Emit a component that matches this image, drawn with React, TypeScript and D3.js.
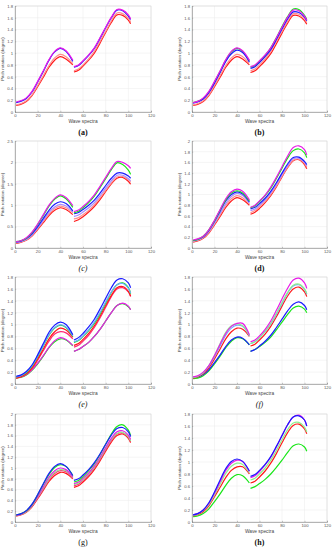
import React, { useRef, useEffect } from 'react';
import * as d3 from 'd3';

// sample positions along the wave spectra axis (two separate runs)
const X_LOW = [1, 5, 10, 15, 20, 25, 30, 35, 40, 45, 51];
const X_HIGH = [52, 56, 60, 65, 70, 75, 80, 85, 90, 95, 100, 102];
const X_TICKS = [0, 20, 40, 60, 80, 100, 120];

const PANEL_LABELS = ['(a)', '(b)', '(c)', '(d)', '(e)', '(f)', '(g)', '(h)'];
const Y_MAX = [1.8, 1.8, 2.5, 2, 1.8, 1.8, 2, 1.8];
const Y_STEP = [0.2, 0.2, 0.5, 0.2, 0.2, 0.2, 0.2, 0.2];

// [series name, low run, high run]
const seriesA = [
  ['red', [0.11, 0.13, 0.18, 0.28, 0.43, 0.59, 0.76, 0.88, 0.94, 0.90, 0.80], [0.68, 0.71, 0.78, 0.88, 1.00, 1.17, 1.35, 1.52, 1.65, 1.64, 1.56, 1.50]],
  ['pink', [0.12, 0.14, 0.19, 0.29, 0.45, 0.62, 0.79, 0.92, 0.98, 0.94, 0.82], [0.70, 0.73, 0.80, 0.90, 1.03, 1.20, 1.37, 1.55, 1.68, 1.67, 1.59, 1.53]],
  ['blue', [0.16, 0.18, 0.23, 0.34, 0.51, 0.69, 0.88, 1.02, 1.08, 1.03, 0.86], [0.76, 0.79, 0.86, 0.96, 1.08, 1.25, 1.43, 1.60, 1.73, 1.72, 1.63, 1.57]],
  ['magenta', [0.17, 0.19, 0.24, 0.35, 0.52, 0.70, 0.89, 1.03, 1.09, 1.04, 0.88], [0.77, 0.80, 0.87, 0.97, 1.09, 1.26, 1.44, 1.61, 1.74, 1.73, 1.65, 1.58]],
];

const seriesB = [
  ['red', [0.11, 0.13, 0.18, 0.28, 0.43, 0.59, 0.76, 0.88, 0.94, 0.90, 0.80], [0.67, 0.70, 0.77, 0.87, 0.99, 1.16, 1.34, 1.51, 1.64, 1.63, 1.55, 1.49]],
  ['pink', [0.12, 0.14, 0.19, 0.29, 0.45, 0.62, 0.79, 0.92, 0.98, 0.94, 0.83], [0.70, 0.73, 0.80, 0.90, 1.03, 1.20, 1.37, 1.54, 1.67, 1.66, 1.58, 1.52]],
  ['green', [0.16, 0.18, 0.23, 0.34, 0.51, 0.69, 0.88, 1.02, 1.08, 1.03, 0.87], [0.76, 0.79, 0.86, 0.96, 1.09, 1.26, 1.45, 1.62, 1.75, 1.74, 1.64, 1.57]],
  ['blue', [0.15, 0.17, 0.22, 0.33, 0.49, 0.67, 0.86, 0.99, 1.05, 1.01, 0.85], [0.74, 0.77, 0.84, 0.94, 1.06, 1.23, 1.41, 1.58, 1.70, 1.69, 1.61, 1.55]],
  ['magenta', [0.16, 0.18, 0.24, 0.35, 0.52, 0.70, 0.89, 1.03, 1.09, 1.04, 0.88], [0.77, 0.80, 0.87, 0.97, 1.09, 1.26, 1.44, 1.61, 1.73, 1.72, 1.63, 1.56]],
];

const seriesC = [
  ['red', [0.11, 0.13, 0.18, 0.28, 0.43, 0.59, 0.76, 0.88, 0.94, 0.90, 0.78], [0.62, 0.66, 0.73, 0.84, 0.97, 1.13, 1.32, 1.50, 1.63, 1.65, 1.56, 1.49]],
  ['pink', [0.12, 0.14, 0.19, 0.29, 0.45, 0.62, 0.79, 0.92, 0.98, 0.94, 0.82], [0.68, 0.71, 0.78, 0.88, 1.01, 1.17, 1.35, 1.52, 1.66, 1.67, 1.59, 1.54]],
  ['lavender', [0.13, 0.15, 0.20, 0.31, 0.47, 0.65, 0.83, 0.96, 1.02, 0.98, 0.84], [0.74, 0.77, 0.84, 0.94, 1.06, 1.22, 1.40, 1.57, 1.70, 1.70, 1.62, 1.57]],
  ['blue', [0.14, 0.16, 0.22, 0.33, 0.50, 0.69, 0.88, 1.02, 1.08, 1.04, 0.87], [0.80, 0.83, 0.90, 1.00, 1.12, 1.28, 1.46, 1.63, 1.75, 1.75, 1.68, 1.63]],
  ['green', [0.15, 0.17, 0.23, 0.36, 0.55, 0.76, 0.98, 1.14, 1.22, 1.15, 0.95], [0.82, 0.86, 0.94, 1.06, 1.21, 1.41, 1.62, 1.83, 1.99, 1.95, 1.82, 1.72]],
  ['magenta', [0.15, 0.17, 0.24, 0.37, 0.56, 0.78, 1.00, 1.16, 1.24, 1.18, 0.99], [0.85, 0.89, 0.97, 1.09, 1.24, 1.44, 1.65, 1.86, 2.02, 2.00, 1.92, 1.86]],
];

const seriesD = [
  ['red', [0.11, 0.13, 0.18, 0.28, 0.43, 0.59, 0.76, 0.88, 0.94, 0.90, 0.80], [0.63, 0.67, 0.74, 0.85, 0.98, 1.14, 1.33, 1.50, 1.63, 1.65, 1.56, 1.48]],
  ['pink', [0.12, 0.14, 0.19, 0.29, 0.45, 0.62, 0.79, 0.92, 0.98, 0.94, 0.82], [0.66, 0.70, 0.77, 0.87, 1.00, 1.16, 1.34, 1.51, 1.64, 1.66, 1.58, 1.51]],
  ['lavender', [0.13, 0.15, 0.20, 0.31, 0.47, 0.65, 0.83, 0.96, 1.02, 0.98, 0.84], [0.70, 0.73, 0.80, 0.90, 1.03, 1.19, 1.37, 1.54, 1.67, 1.68, 1.60, 1.54]],
  ['blue', [0.14, 0.16, 0.21, 0.33, 0.50, 0.69, 0.88, 1.00, 1.05, 1.01, 0.86], [0.73, 0.76, 0.83, 0.93, 1.06, 1.22, 1.40, 1.57, 1.69, 1.70, 1.62, 1.56]],
  ['green', [0.14, 0.16, 0.22, 0.34, 0.51, 0.71, 0.90, 1.03, 1.07, 1.03, 0.88], [0.75, 0.79, 0.87, 0.98, 1.12, 1.30, 1.49, 1.68, 1.82, 1.85, 1.78, 1.69]],
  ['magenta', [0.15, 0.17, 0.22, 0.34, 0.52, 0.72, 0.92, 1.05, 1.10, 1.06, 0.90], [0.76, 0.80, 0.88, 0.99, 1.14, 1.32, 1.52, 1.72, 1.88, 1.91, 1.84, 1.74]],
];

const seriesE = [
  ['greenLow', [0.10, 0.11, 0.15, 0.23, 0.34, 0.47, 0.61, 0.71, 0.76, 0.74, 0.64], [0.55, 0.58, 0.63, 0.70, 0.80, 0.92, 1.06, 1.20, 1.32, 1.35, 1.30, 1.25]],
  ['magenta', [0.11, 0.12, 0.16, 0.24, 0.35, 0.48, 0.62, 0.73, 0.78, 0.75, 0.65], [0.55, 0.58, 0.63, 0.70, 0.80, 0.92, 1.06, 1.20, 1.32, 1.36, 1.31, 1.25]],
  ['deepPink', [0.10, 0.12, 0.17, 0.26, 0.40, 0.56, 0.72, 0.84, 0.88, 0.86, 0.76], [0.62, 0.65, 0.72, 0.82, 0.95, 1.11, 1.29, 1.47, 1.60, 1.62, 1.55, 1.47]],
  ['red', [0.10, 0.12, 0.17, 0.27, 0.42, 0.59, 0.76, 0.88, 0.94, 0.91, 0.79], [0.65, 0.68, 0.75, 0.85, 0.98, 1.14, 1.32, 1.49, 1.62, 1.64, 1.56, 1.48]],
  ['green', [0.12, 0.14, 0.19, 0.30, 0.46, 0.64, 0.82, 0.94, 0.99, 0.95, 0.80], [0.70, 0.73, 0.80, 0.90, 1.02, 1.18, 1.36, 1.54, 1.67, 1.70, 1.62, 1.52]],
  ['cyan', [0.12, 0.14, 0.20, 0.31, 0.47, 0.65, 0.83, 0.95, 1.00, 0.96, 0.81], [0.71, 0.74, 0.81, 0.91, 1.04, 1.20, 1.38, 1.55, 1.67, 1.69, 1.61, 1.53]],
  ['blue', [0.13, 0.15, 0.21, 0.32, 0.49, 0.68, 0.87, 0.99, 1.04, 1.00, 0.83], [0.74, 0.78, 0.85, 0.96, 1.09, 1.26, 1.44, 1.62, 1.75, 1.77, 1.70, 1.62]],
];

const seriesF = [
  ['greenLow', [0.09, 0.10, 0.14, 0.22, 0.34, 0.47, 0.61, 0.72, 0.78, 0.76, 0.66], [0.55, 0.58, 0.63, 0.70, 0.79, 0.91, 1.04, 1.17, 1.28, 1.31, 1.26, 1.20]],
  ['blue', [0.11, 0.12, 0.16, 0.24, 0.36, 0.49, 0.63, 0.74, 0.79, 0.77, 0.66], [0.55, 0.58, 0.64, 0.72, 0.82, 0.95, 1.09, 1.23, 1.34, 1.38, 1.32, 1.25]],
  ['red', [0.10, 0.12, 0.17, 0.27, 0.42, 0.59, 0.76, 0.88, 0.94, 0.92, 0.80], [0.64, 0.67, 0.74, 0.84, 0.97, 1.13, 1.31, 1.48, 1.60, 1.63, 1.55, 1.47]],
  ['cyan', [0.11, 0.13, 0.19, 0.30, 0.46, 0.64, 0.82, 0.94, 0.99, 0.97, 0.81], [0.68, 0.71, 0.78, 0.88, 1.01, 1.17, 1.35, 1.53, 1.65, 1.67, 1.59, 1.51]],
  ['lightGreen', [0.11, 0.13, 0.19, 0.31, 0.48, 0.68, 0.87, 0.98, 1.01, 0.98, 0.82], [0.68, 0.71, 0.78, 0.89, 1.02, 1.19, 1.37, 1.54, 1.66, 1.68, 1.60, 1.52]],
  ['magenta', [0.12, 0.14, 0.20, 0.31, 0.48, 0.67, 0.85, 0.97, 1.02, 1.02, 0.83], [0.71, 0.74, 0.81, 0.92, 1.06, 1.24, 1.43, 1.61, 1.75, 1.78, 1.70, 1.61]],
];

const seriesG = [
  ['red', [0.11, 0.13, 0.18, 0.28, 0.43, 0.59, 0.75, 0.86, 0.92, 0.90, 0.80], [0.64, 0.67, 0.74, 0.84, 0.97, 1.13, 1.31, 1.48, 1.60, 1.63, 1.55, 1.47]],
  ['deepPink', [0.12, 0.14, 0.19, 0.29, 0.44, 0.61, 0.78, 0.90, 0.95, 0.93, 0.81], [0.67, 0.70, 0.77, 0.87, 1.00, 1.16, 1.34, 1.51, 1.63, 1.65, 1.57, 1.49]],
  ['lightGreen', [0.12, 0.14, 0.19, 0.30, 0.46, 0.63, 0.80, 0.92, 0.97, 0.95, 0.82], [0.69, 0.72, 0.79, 0.89, 1.02, 1.18, 1.36, 1.53, 1.64, 1.66, 1.58, 1.50]],
  ['magenta', [0.12, 0.14, 0.20, 0.31, 0.47, 0.65, 0.83, 0.95, 1.00, 0.97, 0.83], [0.71, 0.74, 0.81, 0.91, 1.04, 1.20, 1.38, 1.55, 1.67, 1.69, 1.61, 1.53]],
  ['green', [0.13, 0.15, 0.21, 0.32, 0.50, 0.70, 0.88, 1.01, 1.06, 1.03, 0.86], [0.74, 0.77, 0.84, 0.95, 1.08, 1.25, 1.44, 1.63, 1.77, 1.80, 1.70, 1.60]],
  ['blue', [0.13, 0.15, 0.21, 0.33, 0.51, 0.71, 0.90, 1.03, 1.08, 1.03, 0.86], [0.77, 0.80, 0.87, 0.97, 1.10, 1.26, 1.44, 1.61, 1.73, 1.75, 1.67, 1.58]],
];

const seriesH = [
  ['greenLow', [0.09, 0.10, 0.14, 0.22, 0.34, 0.47, 0.61, 0.73, 0.79, 0.77, 0.65], [0.56, 0.59, 0.64, 0.71, 0.80, 0.91, 1.03, 1.16, 1.27, 1.30, 1.25, 1.18]],
  ['red', [0.10, 0.12, 0.17, 0.27, 0.42, 0.58, 0.74, 0.86, 0.92, 0.92, 0.80], [0.65, 0.68, 0.75, 0.85, 0.98, 1.14, 1.32, 1.49, 1.61, 1.63, 1.55, 1.47]],
  ['lightGreen', [0.11, 0.13, 0.19, 0.29, 0.45, 0.63, 0.81, 0.93, 0.98, 0.96, 0.82], [0.70, 0.73, 0.80, 0.90, 1.03, 1.19, 1.37, 1.54, 1.65, 1.66, 1.58, 1.50]],
  ['magenta', [0.12, 0.14, 0.20, 0.31, 0.48, 0.67, 0.86, 0.98, 1.03, 1.01, 0.84], [0.74, 0.77, 0.84, 0.95, 1.08, 1.25, 1.44, 1.62, 1.75, 1.78, 1.70, 1.60]],
  ['blue', [0.12, 0.14, 0.20, 0.32, 0.50, 0.70, 0.89, 1.01, 1.05, 1.01, 0.85], [0.76, 0.79, 0.86, 0.96, 1.09, 1.26, 1.44, 1.62, 1.75, 1.77, 1.70, 1.60]],
];

const PANEL_SERIES = [seriesA, seriesB, seriesC, seriesD, seriesE, seriesF, seriesG, seriesH];

const COLORS = {
  red: '#ff1a1a',
  pink: '#ff8f8f',
  deepPink: '#ff2d78',
  blue: '#1a1aff',
  magenta: '#e81ae8',
  green: '#1ae61a',
  greenLow: '#1ae61a',
  lightGreen: '#8ff08f',
  lavender: '#a58cff',
  cyan: '#6fa8ff',
};

const LABEL_STYLE = [
  { weight: 'bold', style: 'normal' },
  { weight: 'bold', style: 'normal' },
  { weight: 'normal', style: 'italic' },
  { weight: 'bold', style: 'normal' },
  { weight: 'normal', style: 'italic' },
  { weight: 'normal', style: 'italic' },
  { weight: 'normal', style: 'normal' },
  { weight: 'bold', style: 'normal' },
];

const COLS = [[15, 151], [192, 327]];
const ROWS = [[6, 112], [141, 248], [277, 384], [414, 522]];

const App = () => {
  const svgRef = useRef(null);

  useEffect(() => {
    document.body.style.margin = '0';
    const svg = d3.select(svgRef.current);
    svg.selectAll('*').remove();

    PANEL_SERIES.forEach((series, i) => {
      const [x0, x1] = COLS[i % 2];
      const [y0, y1] = ROWS[Math.floor(i / 2)];
      const xScale = d3.scaleLinear().domain([0, 120]).range([x0, x1]);
      const yScale = d3.scaleLinear().domain([0, Y_MAX[i]]).range([y1, y0]);
      const yTicks = d3.range(0, Y_MAX[i] + 1e-9, Y_STEP[i]).map(v => +v.toFixed(2));

      const g = svg.append('g');

      // grid
      g.append('g').selectAll('line').data(yTicks).join('line')
        .attr('x1', x0).attr('x2', x1)
        .attr('y1', d => yScale(d)).attr('y2', d => yScale(d))
        .attr('stroke', '#ebebeb').attr('stroke-width', 0.5);
      g.append('g').selectAll('line').data(X_TICKS).join('line')
        .attr('x1', d => xScale(d)).attr('x2', d => xScale(d))
        .attr('y1', y0).attr('y2', y1)
        .attr('stroke', '#ebebeb').attr('stroke-width', 0.5);

      // box
      g.append('rect')
        .attr('x', x0).attr('y', y0).attr('width', x1 - x0).attr('height', y1 - y0)
        .attr('fill', 'none').attr('stroke', '#d0d0d0').attr('stroke-width', 0.5);

      // curves
      const line = d3.line()
        .x(d => xScale(d[0]))
        .y(d => yScale(d[1]))
        .curve(d3.curveCatmullRom.alpha(0.5));

      series.forEach(([name, low, high]) => {
        [[X_LOW, low], [X_HIGH, high]].forEach(([xs, ys]) => {
          g.append('path')
            .attr('d', line(xs.map((x, k) => [x, ys[k]])))
            .attr('fill', 'none')
            .attr('stroke', COLORS[name])
            .attr('stroke-width', 1.2);
        });
      });

      // x axis
      const xAxis = g.append('g')
        .attr('transform', `translate(0,${y1})`)
        .call(d3.axisBottom(xScale).tickValues(X_TICKS).tickSize(-1.2).tickPadding(2).tickFormat(d3.format('d')));
      // y axis
      const yAxis = g.append('g')
        .attr('transform', `translate(${x0},0)`)
        .call(d3.axisLeft(yScale).tickValues(yTicks).tickSize(-1.2).tickPadding(2).tickFormat(d => String(d)));

      [xAxis, yAxis].forEach(ax => {
        ax.select('.domain').attr('stroke', '#8c8c8c').attr('stroke-width', 0.6);
        ax.selectAll('line').attr('stroke', '#8c8c8c').attr('stroke-width', 0.5);
        ax.selectAll('text')
          .attr('font-size', 4.2)
          .attr('font-family', 'Liberation Sans, Arial, sans-serif')
          .attr('fill', '#555');
      });

      // axis titles
      g.append('text')
        .attr('x', (x0 + x1) / 2).attr('y', y1 + 11)
        .attr('text-anchor', 'middle')
        .attr('font-size', 4.8)
        .attr('font-family', 'Liberation Sans, Arial, sans-serif')
        .attr('fill', '#444')
        .text('Wave spectra');

      g.append('text')
        .attr('transform', `translate(${x0 - 11},${(y0 + y1) / 2}) rotate(-90)`)
        .attr('text-anchor', 'middle')
        .attr('font-size', 4.4)
        .attr('font-family', 'Liberation Sans, Arial, sans-serif')
        .attr('fill', '#444')
        .text('Pitch rotation (degree)');

      g.append('text')
        .attr('x', (x0 + x1) / 2).attr('y', y1 + 23)
        .attr('text-anchor', 'middle')
        .attr('font-size', 8)
        .attr('font-weight', LABEL_STYLE[i].weight)
        .attr('font-style', LABEL_STYLE[i].style)
        .attr('font-family', 'Liberation Serif, Times New Roman, serif')
        .attr('fill', '#111')
        .text(PANEL_LABELS[i]);
    });
  }, []);

  return (
    <svg ref={svgRef} width={333} height={550} style={{ display: 'block', background: '#fff' }} />
  );
};

export default App;
